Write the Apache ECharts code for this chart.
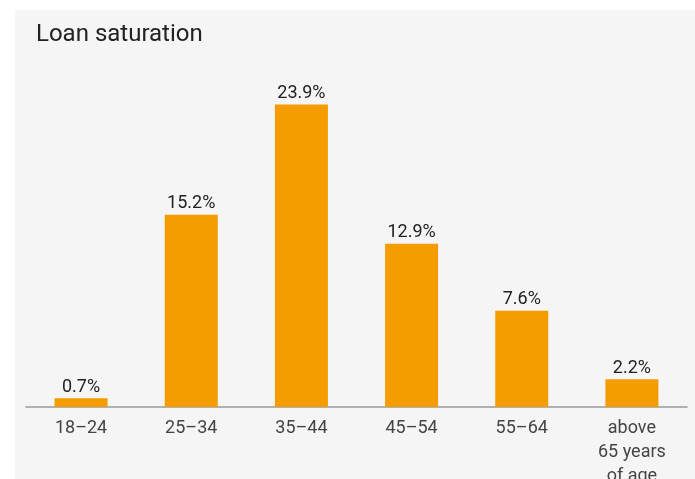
<!DOCTYPE html>
<html>
<head>
<meta charset="utf-8">
<script src="https://cdn.jsdelivr.net/npm/echarts@6/dist/echarts.min.js"></script>
<style>
  html, body { margin: 0; padding: 0; background: #ffffff; }
  #chart { width: 695px; height: 479px; }
</style>
</head>
<body>
<div id="chart"></div>
<script>
// Age groups and share of loans in each
const categories = ['18–24', '25–34', '35–44', '45–54', '55–64', 'above\n65 years\nof age'];
const saturation = [0.7, 15.2, 23.9, 12.9, 7.6, 2.2];

const chart = echarts.init(document.getElementById('chart'), null, { renderer: 'canvas' });

chart.setOption({
  backgroundColor: '#ffffff',
  animation: false,
  textStyle: { fontFamily: 'Roboto, "DejaVu Sans", sans-serif' },
  graphic: [
    {
      type: 'rect',
      z: -10,
      silent: true,
      shape: { x: 15, y: 10, width: 680, height: 469 },
      style: { fill: '#f5f5f5' }
    },
    {
      type: 'text',
      left: 36,
      top: 23,
      style: {
        text: 'Loan saturation',
        fill: '#222222',
        font: '24px Roboto, "DejaVu Sans", sans-serif'
      }
    }
  ],
  grid: { left: 26, right: 8, top: 78, bottom: 72, outerBoundsMode: 'none', containLabel: false },
  xAxis: {
    type: 'category',
    data: categories,
    axisLine: { lineStyle: { color: '#9a9a9a', width: 1.5 } },
    axisTick: { show: false },
    axisLabel: {
      color: '#444444',
      fontSize: 18,
      lineHeight: 24,
      margin: 9,
      interval: 0
    }
  },
  yAxis: {
    type: 'value',
    min: 0,
    max: 26,
    show: false,
    splitLine: { show: false }
  },
  series: [{
    type: 'bar',
    data: saturation,
    barWidth: 53,
    itemStyle: { color: '#f59c00' },
    label: {
      show: true,
      position: 'top',
      distance: 2,
      color: '#222222',
      fontSize: 18,
      formatter: p => p.value.toFixed(1) + '%'
    }
  }]
});
</script>
</body>
</html>
